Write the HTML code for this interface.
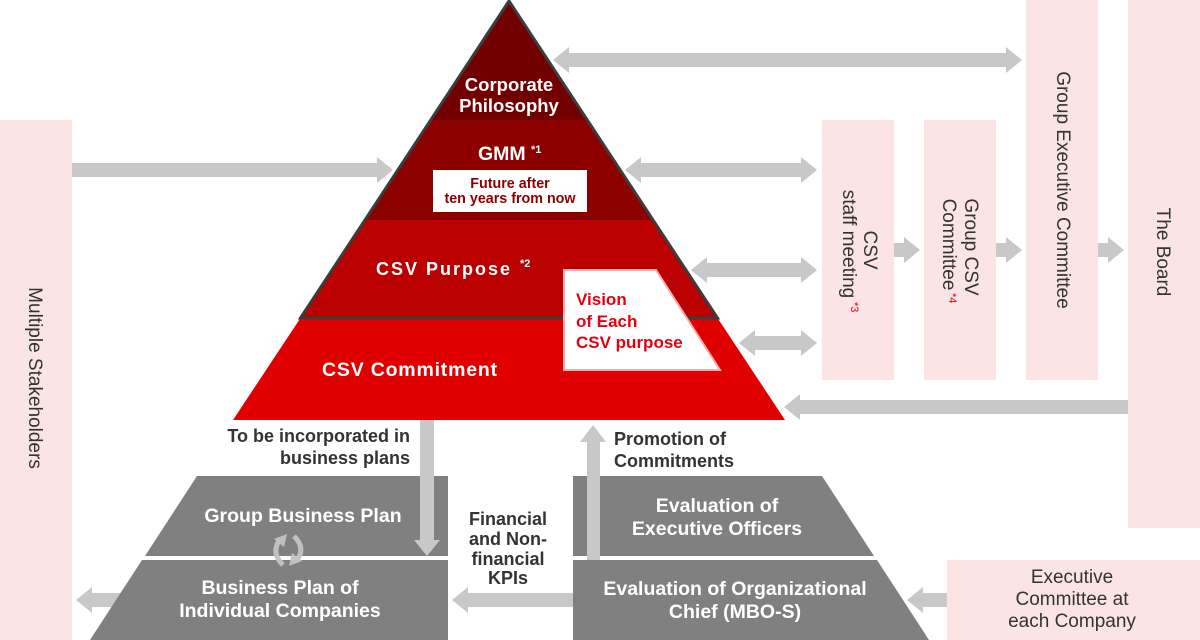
<!DOCTYPE html>
<html>
<head>
<meta charset="utf-8">
<style>
html,body{margin:0;padding:0;background:#fff;}
svg{display:block;}
text{font-family:"Liberation Sans",Arial,sans-serif;}
</style>
</head>
<body>
<svg width="1200" height="640" viewBox="0 0 1200 640" xmlns="http://www.w3.org/2000/svg">
  <rect x="0" y="0" width="1200" height="640" fill="#fff"/>

  <!-- pink boxes -->
  <g fill="#fce4e4">
    <rect x="0" y="120" width="72" height="520"/>
    <rect x="822" y="120" width="72" height="260"/>
    <rect x="924" y="120" width="72" height="260"/>
    <rect x="1026" y="0" width="72" height="380"/>
    <rect x="1128" y="0" width="72" height="528"/>
    <rect x="947" y="560" width="253" height="80"/>
  </g>

  <!-- arrows -->
  <g fill="#c8c8c8">
    <!-- top double arrow -->
    <rect x="568" y="53" width="439" height="14"/>
    <polygon points="569,47 569,73 553,60"/>
    <polygon points="1006,47 1006,73 1022,60"/>
    <!-- stakeholders -> pyramid -->
    <rect x="72" y="163" width="306" height="14"/>
    <polygon points="377,157 377,183 393,170"/>
    <!-- GMM <-> staff -->
    <rect x="640" y="163" width="162" height="14"/>
    <polygon points="641,157 641,183 625,170"/>
    <polygon points="801,157 801,183 817,170"/>
    <!-- Purpose <-> staff -->
    <rect x="706" y="263" width="96" height="14"/>
    <polygon points="707,257 707,283 691,270"/>
    <polygon points="801,257 801,283 817,270"/>
    <!-- Commitment <-> staff -->
    <rect x="754" y="336" width="48" height="14"/>
    <polygon points="755,330 755,356 739,343"/>
    <polygon points="801,330 801,356 817,343"/>
    <!-- chain arrows -->
    <rect x="894" y="243" width="11" height="14"/>
    <polygon points="904,237 904,263 920,250"/>
    <rect x="996" y="243" width="11" height="14"/>
    <polygon points="1006,237 1006,263 1022,250"/>
    <rect x="1098" y="243" width="11" height="14"/>
    <polygon points="1108,237 1108,263 1124,250"/>
    <!-- board -> pyramid -->
    <rect x="799" y="400" width="329" height="14"/>
    <polygon points="800,394 800,420 784,407"/>
    <!-- down arrow -->
    <rect x="420" y="420" width="14" height="121"/>
    <polygon points="414,540 440,540 427,556"/>
    <!-- up arrow -->
    <rect x="587" y="441" width="13" height="119"/>
    <polygon points="580,442 606,442 593,425"/>
    <!-- KPI arrow -->
    <rect x="467" y="593" width="106" height="14"/>
    <polygon points="468,587 468,613 452,600"/>
    <!-- business plan -> stakeholders -->
    <rect x="91" y="593" width="30" height="14"/>
    <polygon points="92,587 92,613 76,600"/>
    <!-- exec committee -> evaluation -->
    <rect x="922" y="593" width="25" height="14"/>
    <polygon points="923,587 923,613 907,600"/>
  </g>

  <!-- pyramid -->
  <polygon points="509,1 587.4,120 430.6,120" fill="#730000"/>
  <polygon points="430.6,120 587.4,120 653.3,220 364.7,220" fill="#8c0000"/>
  <polygon points="364.7,220 653.3,220 717.5,318 300.5,318" fill="#ba0000"/>
  <polygon points="300.5,318 717.5,318 785,420 233,420" fill="#e00000"/>
  <path d="M300.5,318 L509,1 L717.5,318 Z" fill="none" stroke="#3c3c3c" stroke-width="3" stroke-linejoin="miter"/>

  <!-- future box -->
  <rect x="433" y="170" width="154" height="42" fill="#fff"/>
  <!-- vision box -->
  <polygon points="564,270 656,270 720,370 564,370" fill="#fff" stroke="#f4b0b0" stroke-width="2"/>

  <!-- pyramid text -->
  <g fill="#fff" font-weight="bold">
    <text x="509" y="91" font-size="18.5" text-anchor="middle">Corporate</text>
    <text x="509" y="112" font-size="18.5" text-anchor="middle">Philosophy</text>
    <text x="478" y="160" font-size="19.5">GMM</text>
    <text x="531" y="153" font-size="11">*1</text>
    <text x="376" y="275" font-size="18" letter-spacing="2">CSV Purpose</text>
    <text x="520" y="267" font-size="11">*2</text>
    <text x="322" y="376" font-size="19.5" letter-spacing="0.8">CSV Commitment</text>
  </g>
  <g fill="#8c0000" font-weight="bold" font-size="14.3" text-anchor="middle">
    <text x="510" y="188">Future after</text>
    <text x="510" y="203">ten years from now</text>
  </g>
  <g fill="#e60012" font-weight="bold" font-size="17">
    <text x="576" y="305">Vision</text>
    <text x="576" y="327">of Each</text>
    <text x="576" y="348">CSV purpose</text>
  </g>

  <!-- gray trapezoids -->
  <g fill="#808080">
    <polygon points="197,476 448,476 448,556 145,556"/>
    <polygon points="142,560 448,560 448,640 90,640"/>
    <polygon points="573,476 822,476 874,556 573,556"/>
    <polygon points="573,560 877,560 929,640 573,640"/>
  </g>
  <!-- re-draw arrows overlapping trapezoids -->
  <g fill="#c8c8c8">
    <rect x="420" y="476" width="14" height="65"/>
    <polygon points="414,540 440,540 427,556"/>
    <rect x="587" y="476" width="13" height="84"/>
  </g>

  <!-- cycle icon -->
  <g fill="none" stroke="#c4c4c4" stroke-width="5" opacity="0.95">
    <path d="M283,565 Q271,553 279,541"/>
    <path d="M294,536 Q306,548 297,560"/>
  </g>
  <g fill="#c4c4c4" opacity="0.95">
    <polygon points="274,539 287,534 284,547"/>
    <polygon points="302,561 289,566 292,553"/>
  </g>

  <g fill="#fff" font-weight="bold" font-size="19.5" text-anchor="middle">
    <text x="303" y="522">Group Business Plan</text>
    <text x="280" y="594">Business Plan of</text>
    <text x="280" y="617">Individual Companies</text>
    <text x="717" y="512">Evaluation of</text>
    <text x="717" y="535">Executive Officers</text>
    <text x="735" y="595">Evaluation of Organizational</text>
    <text x="735" y="618">Chief (MBO-S)</text>
  </g>

  <!-- labels -->
  <g fill="#333" font-weight="bold" font-size="18">
    <text x="410" y="442" text-anchor="end">To be incorporated in</text>
    <text x="410" y="464" text-anchor="end">business plans</text>
    <text x="614" y="445">Promotion of</text>
    <text x="614" y="467">Commitments</text>
    <text x="508" y="525" text-anchor="middle">Financial</text>
    <text x="508" y="545" text-anchor="middle">and Non-</text>
    <text x="508" y="565" text-anchor="middle">financial</text>
    <text x="508" y="584" text-anchor="middle">KPIs</text>
  </g>

  <g fill="#333" font-size="19" text-anchor="middle">
    <text x="1072" y="583">Executive</text>
    <text x="1072" y="605">Committee at</text>
    <text x="1072" y="627">each Company</text>
  </g>

  <!-- vertical texts -->
  <g fill="#333" font-size="19">
    <text transform="translate(864,250) rotate(90)" text-anchor="middle">CSV</text>
    <text transform="translate(843,244) rotate(90)" text-anchor="middle">staff meeting</text>
    <text transform="translate(965,247) rotate(90)" text-anchor="middle">Group CSV</text>
    <text transform="translate(943,244.5) rotate(90)" text-anchor="middle">Committee</text>
    <text transform="translate(1057,190) rotate(90)" text-anchor="middle">Group Executive Committee</text>
    <text transform="translate(1157,252) rotate(90)" text-anchor="middle">The Board</text>
    <text transform="translate(29,378) rotate(90)" text-anchor="middle">Multiple Stakeholders</text>
  </g>
  <g fill="#e60012" font-size="11">
    <text transform="translate(851,302) rotate(90)">*3</text>
    <text transform="translate(949,293) rotate(90)">*4</text>
  </g>
</svg>
</body>
</html>
